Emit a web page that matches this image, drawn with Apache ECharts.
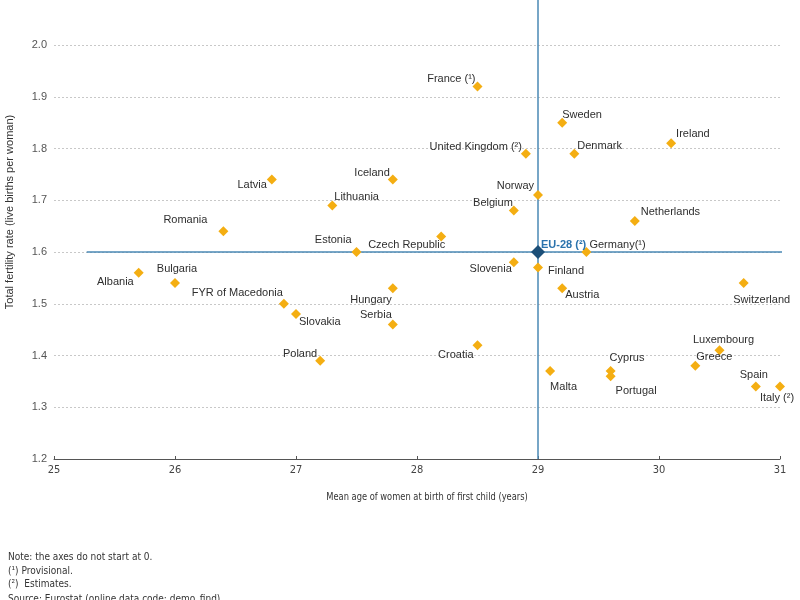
<!DOCTYPE html>
<html>
<head>
<meta charset="utf-8">
<script src="https://cdn.jsdelivr.net/npm/echarts@6/dist/echarts.min.js"></script>
<style>html,body{margin:0;padding:0;background:#fff;}#c{width:800px;height:600px;}</style>
</head>
<body>
<div id="c"></div>
<script>
const countries = ['France (¹)','Sweden','Ireland','United Kingdom (²)','Denmark','Norway','Belgium','Netherlands','Czech Republic','Germany(¹)','Slovenia','Finland','Austria','Switzerland','Luxembourg','Greece','Spain','Italy (²)','Cyprus','Portugal','Malta','Croatia','Iceland','Latvia','Lithuania','Romania','Estonia','Albania','Bulgaria','FYR of Macedonia','Slovakia','Hungary','Serbia','Poland'];
const meanAge = [28.5,29.2,30.1,28.9,29.3,29.0,28.8,29.8,28.2,29.4,28.8,29.0,29.2,30.7,30.5,30.3,30.8,31.0,29.6,29.6,29.1,28.5,27.8,26.8,27.3,26.4,27.5,25.7,26.0,26.9,27.0,27.8,27.8,27.2];
const fertility = [1.92,1.85,1.81,1.79,1.79,1.71,1.68,1.66,1.63,1.60,1.58,1.57,1.53,1.54,1.41,1.38,1.34,1.34,1.37,1.36,1.37,1.42,1.74,1.74,1.69,1.64,1.60,1.56,1.54,1.50,1.48,1.53,1.46,1.39];
const euName = 'EU-28 (²)';
const euAge = 29.0;
const euFertility = 1.60;
// extents of the EU reference cross-lines
const euLineYRange = [1.2, 2.087];
const euLineXRange = [25.27, 31.08];
const xTicks = [25,26,27,28,29,30,31];
const yTicks = [1.2,1.3,1.4,1.5,1.6,1.7,1.8,1.9,2.0];

// label placement (align, dx, dy) per country - layout only
const labelAlign = ['right','left','left','right','left','right','right','left','right','left','right','left','left','center','center','left','center','center','left','left','left','right','right','right','left','right','right','right','center','right','left','right','right','right'];
const labelDx = [-2,0,5,-4,3,-4,-1,6,4,3,-2,10,3,18,4,1,-2,-3,-1,5,0,-4,-3,-5,2,-16,-5,-5,2,-1,3,-1,-1,-3];
const labelDy = [-7,-8,-9,-7,-8,-9,-8,-9,8,-7,7,3,7,17,-10,-9,-12,11,-13,15,16,10,-7,5,-8,-11,-12,9,-14,-11,8,12,-9,-7];

const chart = echarts.init(document.getElementById('c'));
const pts = countries.map((n,i)=>({
  name:n, value:[meanAge[i], fertility[i]],
  label:{align:labelAlign[i], offset:[labelDx[i], labelDy[i]]}
}));
const narrow = "'Liberation Sans Narrow','DejaVu Sans Condensed','Liberation Sans',Arial,sans-serif";
const refLine = {type:'line',clip:false,silent:true,symbol:'none',z:2,animation:false,
  lineStyle:{color:'#4a88b5',width:1.5}};
chart.setOption({
  animation:false,
  backgroundColor:'#fff',
  grid:{left:54,right:20,top:45,bottom:141},
  xAxis:{type:'value',min:25,max:31,interval:1,
    axisLine:{show:true,lineStyle:{color:'#555',width:1}},
    axisTick:{show:true,inside:true,length:3,lineStyle:{color:'#555'}},
    axisLabel:{color:'#444',fontSize:11,fontFamily:narrow,margin:6,formatter:v=>xTicks.includes(v)?String(v):''},
    splitLine:{show:false}},
  yAxis:{type:'value',min:1.2,max:2.0,interval:0.1,
    axisLine:{show:false},axisTick:{show:false},
    axisLabel:{color:'#555',fontSize:11,fontFamily:'Liberation Sans, Arial',margin:7,
      formatter:v=>{const t=yTicks.find(k=>Math.abs(k-v)<1e-6);return t===undefined?'':t.toFixed(1);}},
    splitLine:{show:true,lineStyle:{color:'#c8c8c8',type:[2,2],width:1}}},
  series:[
    Object.assign({}, refLine, {data:euLineYRange.map(y=>[euAge,y])}),
    Object.assign({}, refLine, {data:euLineXRange.map(x=>[x,euFertility])}),
    {type:'scatter',data:pts,symbol:'diamond',symbolSize:10,clip:false,z:3,
      itemStyle:{color:'#f4ae12',opacity:1},
      label:{show:true,position:'inside',verticalAlign:'middle',formatter:'{b}',
        color:'#2e2e2e',fontSize:11,fontFamily:'Liberation Sans, Arial',textBorderWidth:0,textBorderColor:'transparent'}},
    {type:'scatter',data:[{name:euName,value:[euAge,euFertility]}],symbol:'diamond',symbolSize:14,clip:false,z:4,
      itemStyle:{color:'#1c4f78',opacity:1},
      label:{show:true,position:'inside',align:'left',verticalAlign:'middle',offset:[3,-7],
        formatter:'{b}',color:'#2b73ad',fontWeight:'bold',fontSize:11,fontFamily:'Liberation Sans, Arial',textBorderWidth:0,textBorderColor:'transparent'}}
  ],
  graphic:[
    {type:'text',x:10,y:212,rotation:Math.PI/2,
      style:{text:'Total fertility rate (live births per woman)',fill:'#333',font:'11px "Liberation Sans", Arial, sans-serif',align:'center',verticalAlign:'middle'}},
    {type:'text',x:427,y:497,scaleX:0.84,
      style:{text:'Mean age of women at birth of first child (years)',fill:'#333',font:'11px '+narrow,align:'center',verticalAlign:'middle'}},
    {type:'text',x:8,y:557,style:{text:'Note: the axes do not start at 0.',fill:'#333',font:'10px '+narrow,verticalAlign:'middle'}},
    {type:'text',x:8,y:571,style:{text:'(¹) Provisional.',fill:'#333',font:'10px '+narrow,verticalAlign:'middle'}},
    {type:'text',x:8,y:584,style:{text:'(²)  Estimates.',fill:'#333',font:'10px '+narrow,verticalAlign:'middle'}},
    {type:'text',x:8,y:599,style:{text:'Source: Eurostat (online data code: demo_find)',fill:'#333',font:'10px '+narrow,verticalAlign:'middle'}}
  ]
});
</script>
</body>
</html>
